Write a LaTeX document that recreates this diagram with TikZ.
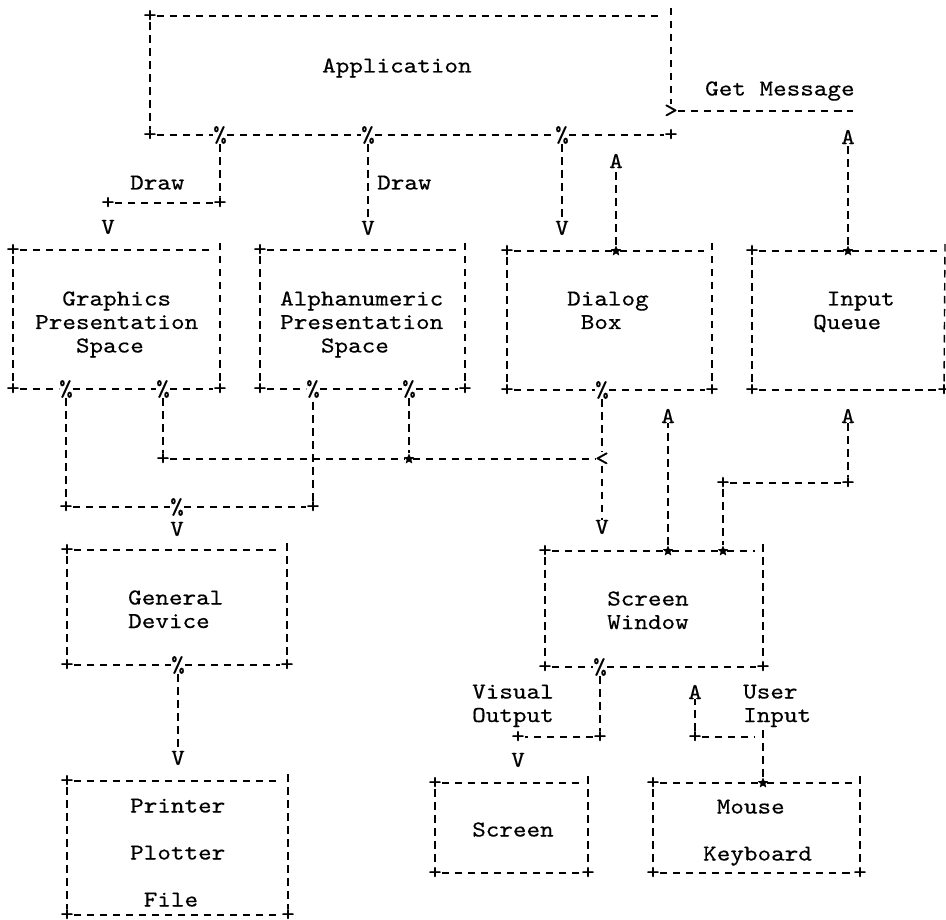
\documentclass[tikz,border=0pt]{standalone}
\usepackage{fontspec}
\usetikzlibrary{shapes.geometric}
\setmainfont{lmmono10-regular.otf}[FakeStretch=1.14, FakeBold=0.4]
\newcommand\mono{\fontsize{22.7}{23.5}\selectfont}
\newcommand\cw{\phantom{0}}
\newcommand\rows[1]{\begin{tabular}[t]{@{}l@{}}#1\end{tabular}}
\tikzset{
  dl/.style={line width=1.4pt, dash pattern=on 7.5pt off 5.5pt},
  ch/.style={inner sep=0pt, font=\mono},
  st/.style={star, star points=5, star point ratio=2.2, minimum size=11pt,
             inner sep=0pt, fill=black, draw=none},
  lbl/.style={inner sep=0pt, anchor=base west, font=\mono, yshift=-1.5pt},
}
\begin{document}
\begin{tikzpicture}[x=1pt, y=-1pt]
\useasboundingbox (0,0) rectangle (946,920);
\fill[white] (0,0) rectangle (946,920);

% ---- Application ----
\node[ch] (app-tl) at (150,16) {+};
\coordinate (app-tr) at (671,16);
\node[ch] (app-gt) at (671,111) {>};
\node[ch] (app-bl) at (150,135) {+};
\node[ch] (app-b1) at (220,135) {\%};
\node[ch] (app-b2) at (368,135) {\%};
\node[ch] (app-b3) at (562,135) {\%};
\node[ch] (app-br) at (671,135) {+};
\draw[dl] (app-tl) -- ([xshift=-9pt]app-tr);
\draw[dl] ([yshift=8pt]app-tr) -- (app-gt);
\draw[dl] (app-tl) -- (app-bl) -- (app-b1) -- (app-b2) -- (app-b3) -- (app-br);
\node[lbl] (app-txt) at (322,71) {Application};

% ---- Get Message ----
\coordinate (gm-end) at (853,111);
\draw[dl] (app-gt) -- (gm-end);
\node[lbl] (gm-txt) at (705,94) {Get Message};
\node[ch] (gm-a) at (848,137) {A};

% ---- Draw connectors ----
\node[ch] (d1-c) at (220,203) {+};
\node[ch] (d1-l) at (108,203) {+};
\node[ch] (d1-v) at (108,227) {V};
\draw[dl] (app-b1) -- (d1-c) -- (d1-l);
\node[lbl] (d1-txt) at (130,188) {Draw};
\node[ch] (d2-v) at (368,228) {V};
\draw[dl] (app-b2) -- (d2-v);
\node[lbl] (d2-txt) at (377,188) {Draw};
\node[ch] (d3-v) at (562,228) {V};
\draw[dl] (app-b3) -- (d3-v);
\node[ch] (dlg-a) at (616,161) {A};

% ---- Graphics Presentation Space ----
\node[ch] (g-tl) at (13,250) {+};
\coordinate (g-tr) at (220,250);
\node[ch] (g-bl) at (13,389) {+};
\node[ch] (g-b1) at (66,389) {\%};
\node[ch] (g-b2) at (163,389) {\%};
\node[ch] (g-br) at (220,389) {+};
\draw[dl] (g-tl) -- ([xshift=-8pt]g-tr);
\draw[dl] ([yshift=7pt]g-tr) -- (g-br);
\draw[dl] (g-tl) -- (g-bl) -- (g-b1) -- (g-b2) -- (g-br);
\node[lbl] (g-txt) at (35,304) {\rows{\cw\cw Graphics\\Presentation\\\cw\cw\cw Space}};

% ---- Alphanumeric Presentation Space ----
\node[ch] (a-tl) at (260,250) {+};
\coordinate (a-tr) at (465,250);
\node[ch] (a-bl) at (260,389) {+};
\node[ch] (a-b1) at (313,389) {\%};
\node[ch] (a-b2) at (409,389) {\%};
\node[ch] (a-br) at (465,389) {+};
\draw[dl] (a-tl) -- ([xshift=-8pt]a-tr);
\draw[dl] ([yshift=7pt]a-tr) -- (a-br);
\draw[dl] (a-tl) -- (a-bl) -- (a-b1) -- (a-b2) -- (a-br);
\node[lbl] (a-txt) at (280,304) {\rows{Alphanumeric\\Presentation\\\cw\cw\cw Space}};

% ---- Dialog Box ----
\node[ch] (dlg-tl) at (507,251) {+};
\node[st] (dlg-t) at (616,251) {};
\coordinate (dlg-tr) at (712,251);
\node[ch] (dlg-bl) at (507,390) {+};
\node[ch] (dlg-b) at (602,390) {\%};
\node[ch] (dlg-br) at (712,390) {+};
\draw[dl] (dlg-tl) -- (dlg-t) -- ([xshift=-8pt]dlg-tr);
\draw[dl] ([yshift=8pt]dlg-tr) -- (dlg-br);
\draw[dl] (dlg-tl) -- (dlg-bl) -- (dlg-b) -- (dlg-br);
\draw[dl] (dlg-t) -- (dlg-a);
\node[lbl] (dlg-txt) at (567,304) {\rows{Dialog\\\cw Box}};

% ---- Input Queue ----
\node[ch] (iq-tl) at (752,251) {+};
\node[st] (iq-t) at (848,251) {};
\coordinate (iq-tr) at (945,251);
\node[ch] (iq-bl) at (752,390) {+};
\node[ch] (iq-br) at (944,390) {+};
\draw[dl] (iq-tl) -- (iq-t) -- ([xshift=-8pt]iq-tr);
\draw[dl] ([yshift=7pt]iq-tr) -- (iq-br);
\draw[dl] (iq-tl) -- (iq-bl) -- (iq-br);
\draw[dl] (iq-t) -- (gm-a);
\node[lbl] (iq-txt) at (813,304) {\rows{\cw Input\\Queue}};

% ---- Presentation spaces to General Device ----
\node[ch] (c7-l) at (66,507) {+};
\node[ch] (c7-m) at (177,507) {\%};
\node[ch] (c7-r) at (313,507) {+};
\draw[dl] (g-b1) -- (c7-l) -- (c7-m) -- (c7-r) -- (a-b1);
\node[ch] (gd-v) at (177,529) {V};

% ---- Presentation spaces to Screen Window ----
\node[ch] (c8-l) at (163,459) {+};
\node[st] (c8-s) at (409,459) {};
\node[ch] (c8-lt) at (602,459) {<};
\draw[dl] (g-b2) -- (c8-l) -- (c8-s) -- (c8-lt);
\draw[dl] (a-b2) -- (c8-s);
\node[ch] (dlg-v) at (602,527) {V};
\draw[dl] (dlg-b) -- (c8-lt) -- (dlg-v);

% ---- Screen Window ----
\node[ch] (sw-tl) at (545,551) {+};
\node[st] (sw-t1) at (668,551) {};
\node[st] (sw-t2) at (723,551) {};
\coordinate (sw-tr) at (763,551);
\node[ch] (sw-bl) at (545,667) {+};
\node[ch] (sw-b) at (600,667) {\%};
\node[ch] (sw-br) at (763,667) {+};
\draw[dl] (sw-tl) -- (sw-t1) -- (sw-t2) -- ([xshift=-8pt]sw-tr);
\draw[dl] ([yshift=7pt]sw-tr) -- (sw-br);
\draw[dl] (sw-tl) -- (sw-bl) -- (sw-b) -- (sw-br);
\node[lbl] (sw-txt) at (607,604) {\rows{Screen\\Window}};

\node[ch] (sw-a) at (668,416) {A};
\draw[dl] (sw-t1) -- (sw-a);
\node[ch] (iq-a) at (848,416) {A};
\node[ch] (c11-r) at (848,483) {+};
\node[ch] (c11-l) at (723,483) {+};
\draw[dl] (iq-a) -- (c11-r) -- (c11-l) -- (sw-t2);

% ---- Visual Output ----
\node[ch] (c12-r) at (600,737) {+};
\node[ch] (c12-l) at (518,737) {+};
\node[ch] (scr-v) at (518,760) {V};
\draw[dl] (sw-b) -- (c12-r) -- (c12-l);
\node[lbl] (vo-txt) at (472,697) {\rows{Visual\\Output}};

% ---- User Input ----
\node[ch] (ui-a) at (695,692) {A};
\node[ch] (c13-l) at (695,737) {+};
\coordinate (c13-r) at (763,737);
\node[lbl] (ui-txt) at (743,697) {\rows{User\\Input}};

% ---- General Device ----
\node[ch] (gd-tl) at (67,550) {+};
\coordinate (gd-tr) at (287,550);
\node[ch] (gd-bl) at (67,665) {+};
\node[ch] (gd-b) at (178,665) {\%};
\node[ch] (gd-br) at (287,665) {+};
\draw[dl] (gd-tl) -- ([xshift=-8pt]gd-tr);
\draw[dl] ([yshift=7pt]gd-tr) -- (gd-br);
\draw[dl] (gd-tl) -- (gd-bl) -- (gd-b) -- (gd-br);
\node[lbl] (gd-txt) at (128,603) {\rows{General\\Device}};
\node[ch] (pr-v) at (178,758) {V};
\draw[dl] (gd-b) -- (pr-v);

% ---- Printer / Plotter / File ----
\node[ch] (pr-tl) at (67,781) {+};
\coordinate (pr-tr) at (288,781);
\node[ch] (pr-bl) at (67,915) {+};
\node[ch] (pr-br) at (288,915) {+};
\draw[dl] (pr-tl) -- ([xshift=-8pt]pr-tr);
\draw[dl] ([yshift=7pt]pr-tr) -- (pr-br);
\draw[dl] (pr-tl) -- (pr-bl) -- (pr-br);
\node[lbl] (pr-txt) at (130,811) {\rows{Printer\\ \\Plotter\\ \\\cw File}};

% ---- Screen ----
\node[ch] (scr-tl) at (435,783) {+};
\coordinate (scr-tr) at (588,783);
\node[ch] (scr-bl) at (435,873) {+};
\node[ch] (scr-br) at (588,873) {+};
\draw[dl] (scr-tl) -- ([xshift=-8pt]scr-tr);
\draw[dl] ([yshift=7pt]scr-tr) -- (scr-br);
\draw[dl] (scr-tl) -- (scr-bl) -- (scr-br);
\node[lbl] (scr-txt) at (472,835) {Screen};

% ---- Mouse / Keyboard ----
\node[ch] (mk-tl) at (653,783) {+};
\node[st] (mk-t) at (763,783) {};
\coordinate (mk-tr) at (860,783);
\node[ch] (mk-bl) at (653,873) {+};
\node[ch] (mk-br) at (860,873) {+};
\draw[dl] (mk-tl) -- (mk-t) -- ([xshift=-8pt]mk-tr);
\draw[dl] ([yshift=7pt]mk-tr) -- (mk-br);
\draw[dl] (mk-tl) -- (mk-bl) -- (mk-br);
\node[lbl] (mk-txt) at (703,812) {\rows{\cw Mouse\\ \\Keyboard}};

% user input feeds the screen window
\draw[dl] (mk-t) -- ([yshift=8pt]c13-r);
\draw[dl] (c13-l) -- ([xshift=-8pt]c13-r);
\draw[dl] (c13-l) -- (ui-a);
\end{tikzpicture}
\end{document}
